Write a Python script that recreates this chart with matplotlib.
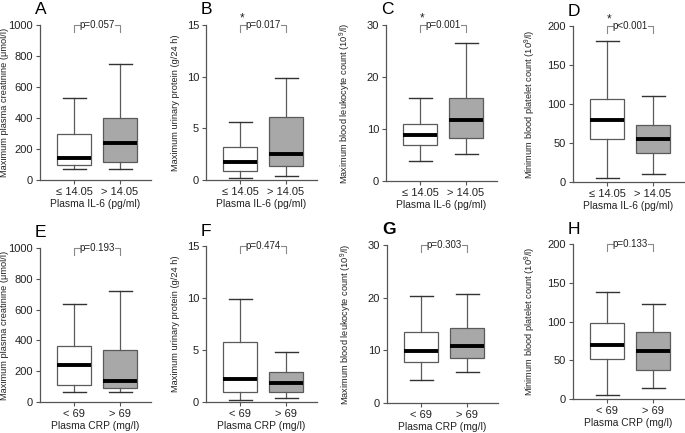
import matplotlib
matplotlib.use("Agg")
import matplotlib.pyplot as plt

plt.rcParams['font.family'] = ['Liberation Sans', 'DejaVu Sans']
plt.rcParams['mathtext.fontset'] = 'custom'
plt.rcParams['mathtext.rm'] = 'Liberation Sans'
plt.rcParams['mathtext.it'] = 'Liberation Sans:italic'

W, H = 685, 433

# ---- data (box stats: whisker low, q1, median, q3, whisker high) ----
panel_letters = ["A", "B", "C", "D", "E", "F", "G", "H"]
ylabels = [
    "Maximum plasma creatinine (μmol/l)",
    "Maximum urinary protein (g/24 h)",
    "Maximum blood leukocyte count (10$^9$/l)",
    "Minimum blood platelet count (10$^9$/l)",
    "Maximum plasma creatinine (μmol/l)",
    "Maximum urinary protein (g/24 h)",
    "Maximum blood leukocyte count (10$^9$/l)",
    "Minimum blood platelet count (10$^9$/l)",
]
il6_ticks = ["≤ 14.05", "> 14.05"]
crp_ticks = ["< 69", "> 69"]
il6_xlabel = "Plasma IL-6 (pg/ml)"
crp_xlabel = "Plasma CRP (mg/l)"
p_texts = ["p=0.057", "p=0.017", "p=0.001", "p<0.001",
           "p=0.193", "p=0.474", "p=0.303", "p=0.133"]
significant = [False, True, True, True, False, False, False, False]
ymaxes = [1000, 15, 30, 200, 1000, 15, 30, 200]
ysteps = [200, 5, 10, 50, 200, 5, 10, 50]

A_lo_stats = [69, 94, 141, 298, 526]
A_hi_stats = [69, 118, 238, 399, 749]
B_lo_stats = [0.2, 0.9, 1.7, 3.2, 5.6]
B_hi_stats = [0.4, 1.4, 2.55, 6.05, 9.9]
C_lo_stats = [3.9, 7.0, 8.9, 10.9, 16.0]
C_hi_stats = [5.1, 8.3, 11.7, 15.9, 26.6]
D_lo_stats = [5, 55, 80, 106, 181]
D_hi_stats = [10, 37, 55, 73, 110]
E_lo_stats = [65, 110, 240, 365, 635]
E_hi_stats = [65, 88, 138, 340, 720]
F_lo_stats = [0.2, 1.0, 2.2, 5.8, 9.9]
F_hi_stats = [0.4, 1.0, 1.8, 2.85, 4.8]
G_lo_stats = [4.4, 7.8, 9.9, 13.4, 20.3]
G_hi_stats = [5.9, 8.6, 10.8, 14.3, 20.7]
H_lo_stats = [5, 51, 70, 98, 138]
H_hi_stats = [14, 37, 62, 86, 123]

all_stats = [(A_lo_stats, A_hi_stats), (B_lo_stats, B_hi_stats),
             (C_lo_stats, C_hi_stats), (D_lo_stats, D_hi_stats),
             (E_lo_stats, E_hi_stats), (F_lo_stats, F_hi_stats),
             (G_lo_stats, G_hi_stats), (H_lo_stats, H_hi_stats)]

# ---- layout in pixels: (axis_x, top_y, bottom_y) ----
layout = [(40, 25, 180), (206, 25, 180), (386, 25, 181), (573, 26, 182),
          (40, 248, 402), (206, 246, 402), (387, 245, 403), (573, 244, 399)]
ylabel_offsets = [31, 26, 33, 35, 31, 26, 33, 35]
xlim = (0.26, 2.67)
unit_px = 46.0
ax_w_px = (xlim[1] - xlim[0]) * unit_px

fig = plt.figure(figsize=(W / 100, H / 100), dpi=100)
fig.patch.set_facecolor("white")

spine_col = "#555555"
for i in range(8):
    x0, yt, yb = layout[i]
    ax = fig.add_axes([x0 / W, 1 - yb / H, ax_w_px / W, (yb - yt) / H])
    lo, hi = all_stats[i]
    stats = []
    for s in (lo, hi):
        stats.append(dict(whislo=s[0], q1=s[1], med=s[2], q3=s[3], whishi=s[4], fliers=[]))
    bp = ax.bxp(stats, positions=[1, 2], widths=0.73, patch_artist=True,
                showfliers=False,
                boxprops=dict(edgecolor="#5a5a5a", linewidth=0.9),
                whiskerprops=dict(color="#5a5a5a", linewidth=0.9),
                capprops=dict(color="#333333", linewidth=1.0),
                medianprops=dict(color="black", linewidth=2.8, solid_capstyle="butt"),
                capwidths=0.5)
    bp["boxes"][0].set_facecolor("white")
    bp["boxes"][1].set_facecolor("#a8a8a8")

    ymax = ymaxes[i]
    ax.set_ylim(0, ymax)
    ax.set_xlim(*xlim)
    ax.set_yticks(list(range(0, ymax + 1, ysteps[i])))
    ax.set_xticks([1, 2])
    ax.set_xticklabels(il6_ticks if i < 4 else crp_ticks)
    ax.set_xlabel(il6_xlabel if i < 4 else crp_xlabel, fontsize=7.4, labelpad=1.5,
                  color="#222222")
    ax.set_ylabel(ylabels[i], fontsize=6.7, color="#222222")
    ax.yaxis.set_label_coords(-ylabel_offsets[i] / ax_w_px, 0.5)
    for sp in ("top", "right"):
        ax.spines[sp].set_visible(False)
    for sp in ("left", "bottom"):
        ax.spines[sp].set_color(spine_col)
        ax.spines[sp].set_linewidth(0.9)
    ax.tick_params(axis="both", labelsize=8, colors="#222222", length=3,
                   width=0.8, pad=2)
    ax.tick_params(axis="both", color=spine_col)

    # bracket with p value
    bc = "#888888"
    drop = 0.045 * ymax
    ax.plot([1, 1, 1.12], [ymax - drop, ymax, ymax], color=bc, lw=0.8, clip_on=False)
    ax.plot([1.88, 2, 2], [ymax, ymax, ymax - drop], color=bc, lw=0.8, clip_on=False)
    ax.text(1.5, ymax, p_texts[i], ha="center", va="center", fontsize=7,
            color="#222222", clip_on=False)
    if significant[i]:
        ax.text(1.05, ymax + 0.045 * ymax, "*", ha="center", va="center",
                fontsize=8.5, color="#222222", clip_on=False)

    fig.text((x0 - 5) / W, 1 - (yt - 15) / H, panel_letters[i], fontsize=12.5,
             ha="left", va="center",
             fontweight="bold" if panel_letters[i] == "G" else "normal")

fig.savefig("out.png", dpi=100, facecolor="white")
